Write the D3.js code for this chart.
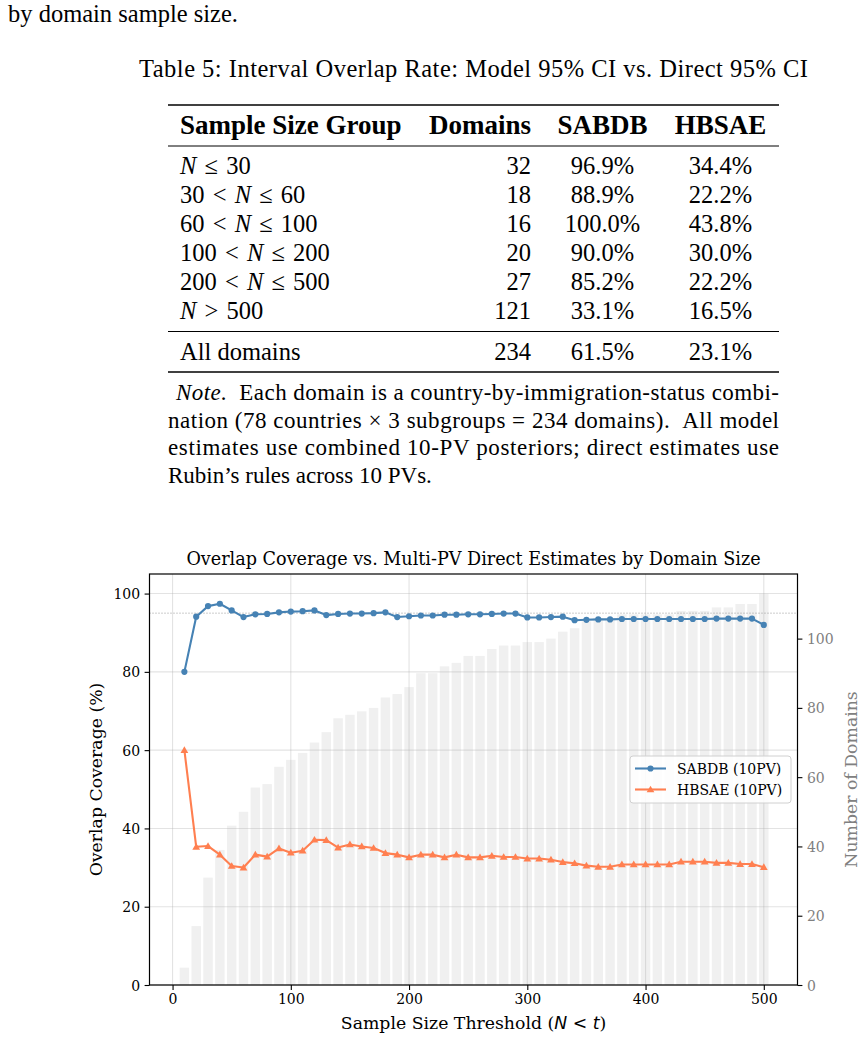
<!DOCTYPE html>
<html>
<head>
<meta charset="utf-8">
<script src="https://cdn.jsdelivr.net/npm/d3@7/dist/d3.min.js"></script>
<style>
  body { margin: 0; background: #fff; }
  svg { display: block; }
</style>
</head>
<body>
<svg width="863" height="1040"></svg>
<script>
/* global d3 */

// table values
const groupLabels = ['N ≤ 30', '30 < N ≤ 60', '60 < N ≤ 100', '100 < N ≤ 200', '200 < N ≤ 500', 'N > 500']
const groupDomains = [32, 18, 16, 20, 27, 121]
const groupSabdb = ['96.9%', '88.9%', '100.0%', '90.0%', '85.2%', '33.1%']
const groupHbsae = ['34.4%', '22.2%', '43.8%', '30.0%', '22.2%', '16.5%']
const totalRow = ['All domains', 234, '61.5%', '23.1%']
const tableHeaders = ['Sample Size Group', 'Domains', 'SABDB', 'HBSAE']

// chart values
const thresholds = [10, 20, 30, 40, 50, 60, 70, 80, 90, 100,
  110, 120, 130, 140, 150, 160, 170, 180, 190, 200,
  210, 220, 230, 240, 250, 260, 270, 280, 290, 300,
  310, 320, 330, 340, 350, 360, 370, 380, 390, 400,
  410, 420, 430, 440, 450, 460, 470, 480, 490, 500]
const domainCounts = [5, 17, 31, 39, 46, 50, 57, 58, 63, 65,
  67, 70, 73, 77, 78, 79, 80, 83, 84, 86,
  90, 90, 92, 93, 95, 95, 97, 98, 98, 99,
  99, 100, 102, 103, 105, 106, 106, 107, 107, 107,
  107, 107, 108, 108, 108, 109, 109, 110, 110, 113]
const sabdbCoverage = [80.0, 94.1, 96.8, 97.4, 95.7, 94.0, 94.7, 94.8, 95.2, 95.4,
  95.5, 95.7, 94.5, 94.8, 94.9, 94.9, 95.0, 95.2, 94.0, 94.2,
  94.4, 94.4, 94.6, 94.6, 94.7, 94.7, 94.8, 94.9, 94.9, 93.9,
  93.9, 94.0, 94.1, 93.2, 93.3, 93.4, 93.4, 93.5, 93.5, 93.5,
  93.5, 93.5, 93.5, 93.5, 93.5, 93.6, 93.6, 93.6, 93.6, 92.0]
const hbsaeCoverage = [60.0, 35.3, 35.5, 33.3, 30.4, 30.0, 33.3, 32.8, 34.9, 33.8,
  34.3, 37.1, 37.0, 35.1, 35.9, 35.4, 35.0, 33.7, 33.3, 32.6,
  33.3, 33.3, 32.6, 33.3, 32.6, 32.6, 33.0, 32.7, 32.7, 32.3,
  32.3, 32.0, 31.4, 31.1, 30.5, 30.2, 30.2, 30.8, 30.8, 30.8,
  30.8, 30.8, 31.5, 31.5, 31.5, 31.2, 31.2, 30.9, 30.9, 30.1]
const xTicks = [0, 100, 200, 300, 400, 500]
const yTicks = [0, 20, 40, 60, 80, 100]
const y2Ticks = [0, 20, 40, 60, 80, 100]
const seriesNames = ['SABDB (10PV)', 'HBSAE (10PV)']
const seriesColors = ['#4682b4', '#ff7f50']

const svg = d3.select('svg')

// ---------- text + table part ----------
const doc = svg.append('g').attr('font-family', "'Liberation Serif', 'Times New Roman', serif").attr('fill', '#000')

doc.append('text').attr('x', 8).attr('y', 22).attr('font-size', 24.5).text('by domain sample size.')
doc.append('text').attr('x', 139).attr('y', 77).attr('font-size', 24.5)
  .attr('textLength', 669).text('Table 5: Interval Overlap Rate: Model 95% CI vs. Direct 95% CI')

const tl = 168
const tr = 779
const rule = (y, w) => doc.append('line').attr('x1', tl).attr('x2', tr).attr('y1', y).attr('y2', y)
  .attr('stroke', '#000').attr('stroke-width', w)
rule(105, 1.7)
rule(146, 1)
rule(331.5, 1)
rule(372, 1.7)

const colX = [180, 531, 602.5, 720.5]
const colAnchor = ['start', 'end', 'middle', 'middle']

tableHeaders.forEach((h, i) => {
  doc.append('text').attr('x', colX[i]).attr('y', 134).attr('text-anchor', colAnchor[i])
    .attr('font-size', 27).attr('font-weight', 'bold').text(h)
})

function mathLabel (sel, str) {
  str.split(' ').forEach((tok, i) => {
    const t = sel.append('tspan').text((i > 0 ? '\u2004' : '') + tok)
    if (tok === 'N') t.attr('font-style', 'italic')
  })
}

const rowY = [174, 203, 232, 261, 290, 319]
groupLabels.forEach((lab, i) => {
  const t = doc.append('text').attr('x', colX[0]).attr('y', rowY[i]).attr('font-size', 24.5)
  mathLabel(t, lab)
  const vals = [groupDomains[i], groupSabdb[i], groupHbsae[i]]
  vals.forEach((v, j) => {
    doc.append('text').attr('x', colX[j + 1]).attr('y', rowY[i]).attr('text-anchor', colAnchor[j + 1])
      .attr('font-size', 24.5).text(v)
  })
})
totalRow.forEach((v, j) => {
  doc.append('text').attr('x', colX[j]).attr('y', 359.5).attr('text-anchor', colAnchor[j])
    .attr('font-size', 24.5).text(v)
})

const note1 = doc.append('text').attr('x', 176).attr('y', 400).attr('font-size', 23).attr('textLength', 603)
note1.append('tspan').attr('font-style', 'italic').text('Note.')
note1.append('tspan').text('\u2002Each domain is a country-by-immigration-status combi-')
doc.append('text').attr('x', tl).attr('y', 427.5).attr('font-size', 23).attr('textLength', 611)
  .text('nation (78 countries × 3 subgroups = 234 domains).\u2002All model')
doc.append('text').attr('x', tl).attr('y', 455).attr('font-size', 23).attr('textLength', 611)
  .text('estimates use combined 10-PV posteriors; direct estimates use')
doc.append('text').attr('x', tl).attr('y', 482.5).attr('font-size', 23)
  .text('Rubin\u2019s rules across 10 PVs.')

// ---------- chart ----------
const margin = { top: 574, right: 65.5, bottom: 55, left: 149.5 }
const width = 863 - margin.left - margin.right
const height = 1040 - margin.top - margin.bottom

const g = svg.append('g')
  .attr('transform', 'translate(' + margin.left + ',' + margin.top + ')')
  .attr('font-family', "'DejaVu Serif', serif")

const x = d3.scaleLinear().domain([-19.5, 528.5]).range([0, width])
const y = d3.scaleLinear().domain([0, 105]).range([height, 0])
const y2 = d3.scaleLinear().domain([0, 118.65]).range([height, 0])

// domain count bars (right axis)
g.append('g').selectAll('rect')
  .data(thresholds)
  .enter().append('rect')
  .attr('x', (d) => x(d - 4))
  .attr('width', x(8) - x(0))
  .attr('y', (d, i) => y2(domainCounts[i]))
  .attr('height', (d, i) => height - y2(domainCounts[i]))
  .attr('fill', '#f0f0f0')

// grid
const grid = g.append('g').attr('class', 'grid')
grid.selectAll('.gx').data(xTicks).enter().append('line')
  .attr('x1', (d) => x(d)).attr('x2', (d) => x(d)).attr('y1', 0).attr('y2', height)
grid.selectAll('.gy').data(yTicks).enter().append('line')
  .attr('x1', 0).attr('x2', width).attr('y1', (d) => y(d)).attr('y2', (d) => y(d))
grid.selectAll('line').attr('stroke', '#b0b0b0').attr('stroke-opacity', 0.35).attr('stroke-width', 1.1)

// 95% reference
g.append('line')
  .attr('x1', 0).attr('x2', width).attr('y1', y(95)).attr('y2', y(95))
  .attr('stroke', '#999').attr('stroke-width', 1).attr('stroke-dasharray', '1,2')

// series
const series = [sabdbCoverage, hbsaeCoverage]
const line = d3.line().x((d, i) => x(thresholds[i])).y((d) => y(d))
const triangle = d3.symbol().type(d3.symbolTriangle).size(26)

series.forEach((vals, s) => {
  g.append('path').datum(vals)
    .attr('d', line)
    .attr('fill', 'none')
    .attr('stroke', seriesColors[s])
    .attr('stroke-width', 2.1)
    .attr('stroke-linejoin', 'round')
  const marks = g.append('g').selectAll('.m').data(vals).enter()
  if (s === 0) {
    marks.append('circle')
      .attr('cx', (d, i) => x(thresholds[i])).attr('cy', (d) => y(d)).attr('r', 3.1)
      .attr('fill', seriesColors[s])
  } else {
    marks.append('path')
      .attr('d', triangle)
      .attr('transform', (d, i) => 'translate(' + x(thresholds[i]) + ',' + (y(d) + 0.6) + ')')
      .attr('fill', seriesColors[s])
  }
})

// axes
const styleAxis = (a) => {
  a.select('.domain').remove()
  a.selectAll('.tick line').attr('stroke', '#000').attr('stroke-width', 1.1)
  a.selectAll('.tick text').attr('font-family', "'DejaVu Serif', serif").attr('font-size', 14)
}

g.append('g')
  .attr('transform', 'translate(0,' + height + ')')
  .call(d3.axisBottom(x).tickValues(xTicks).tickSize(4.9).tickPadding(4.5))
  .call(styleAxis)
  .selectAll('.tick text').attr('fill', '#000')

g.append('g')
  .call(d3.axisLeft(y).tickValues(yTicks).tickSize(4.9).tickPadding(4.5))
  .call(styleAxis)
  .selectAll('.tick text').attr('fill', '#000').attr('dy', '0.36em')

g.append('g')
  .attr('transform', 'translate(' + width + ',0)')
  .call(d3.axisRight(y2).tickValues(y2Ticks).tickSize(4.9).tickPadding(4.5))
  .call(styleAxis)
  .selectAll('.tick text').attr('fill', '#808080').attr('dy', '0.36em')

// frame
g.append('rect').attr('width', width).attr('height', height)
  .attr('fill', 'none').attr('stroke', '#000').attr('stroke-width', 1.2)

// labels
g.append('text').attr('x', width / 2).attr('y', -9).attr('text-anchor', 'middle')
  .attr('font-size', 17.6).text('Overlap Coverage vs. Multi-PV Direct Estimates by Domain Size')

const xl = g.append('text').attr('x', width / 2).attr('y', height + 44).attr('text-anchor', 'middle')
  .attr('font-size', 17.3)
xl.append('tspan').text('Sample Size Threshold (')
xl.append('tspan').attr('font-family', "'DejaVu Sans', sans-serif").attr('font-style', 'italic').text('N')
xl.append('tspan').attr('font-family', "'DejaVu Sans', sans-serif").text(' < ')
xl.append('tspan').attr('font-family', "'DejaVu Sans', sans-serif").attr('font-style', 'italic').text('t')
xl.append('tspan').text(')')

g.append('text').attr('transform', 'translate(' + (-48) + ',' + (height / 2) + ') rotate(-90)')
  .attr('text-anchor', 'middle').attr('font-size', 17.3).text('Overlap Coverage (%)')

g.append('text').attr('transform', 'translate(' + (width + 59) + ',' + (height / 2) + ') rotate(-90)')
  .attr('text-anchor', 'middle').attr('font-size', 17.3).attr('fill', '#808080').text('Number of Domains')

// legend
const lg = g.append('g').attr('transform', 'translate(' + (630 - margin.left) + ',' + (756 - margin.top) + ')')
lg.append('rect').attr('width', 161).attr('height', 47).attr('rx', 3)
  .attr('fill', '#fff').attr('fill-opacity', 0.85).attr('stroke', '#d0d0d0')
seriesNames.forEach((name, i) => {
  const ly = 12.5 + i * 21
  lg.append('line').attr('x1', 5).attr('x2', 36).attr('y1', ly).attr('y2', ly)
    .attr('stroke', seriesColors[i]).attr('stroke-width', 2.1)
  if (i === 0) {
    lg.append('circle').attr('cx', 20.5).attr('cy', ly).attr('r', 3.1).attr('fill', seriesColors[i])
  } else {
    lg.append('path').attr('d', triangle).attr('transform', 'translate(20.5,' + (ly + 0.6) + ')')
      .attr('fill', seriesColors[i])
  }
  lg.append('text').attr('x', 47).attr('y', ly + 5).attr('font-size', 14).text(name)
})
</script>
</body>
</html>
